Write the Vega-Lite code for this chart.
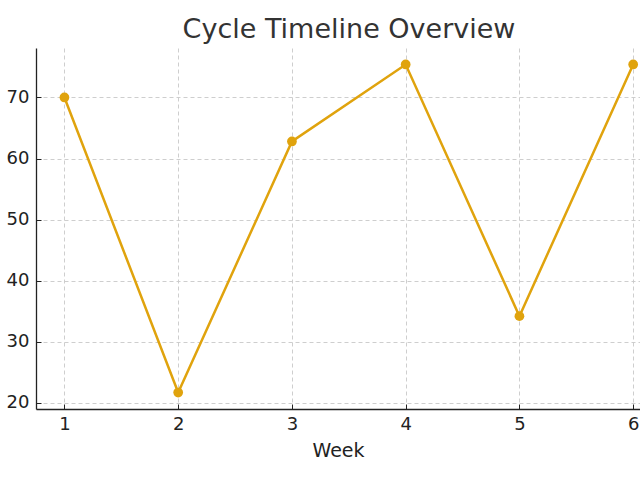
{
  "$schema": "https://vega.github.io/schema/vega-lite/v6.json",
  "autosize": {"type": "none"},
  "width": 604,
  "height": 361,
  "padding": {"left": 36, "top": 48, "right": 0, "bottom": 71},
  "background": "white",
  "title": {
    "text": "Cycle Timeline Overview",
    "font": "DejaVu Sans",
    "fontSize": 27,
    "fontWeight": "normal",
    "color": "#333333",
    "anchor": "middle",
    "dx": 11,
    "offset": 4
  },
  "data": {
    "values": [
      {"week": 1, "value": 70.0},
      {"week": 2, "value": 21.7},
      {"week": 3, "value": 62.8},
      {"week": 4, "value": 75.4},
      {"week": 5, "value": 34.2},
      {"week": 6, "value": 75.4}
    ]
  },
  "config": {
    "view": {"stroke": null},
    "axis": {
      "labelFont": "DejaVu Sans",
      "labelFontSize": 18,
      "labelColor": "#222222",
      "titleFont": "DejaVu Sans",
      "titleFontSize": 19,
      "titleFontWeight": "normal",
      "titleColor": "#222222",
      "domainColor": "#222222",
      "domainWidth": 1.3,
      "tickColor": "#222222",
      "tickSize": -5,
      "gridColor": "#c8c8c8",
      "gridDash": [4, 3],
      "gridWidth": 0.9
    }
  },
  "mark": {"type": "line", "color": "#e0a30d", "strokeWidth": 2.5, "clip": false, "point": {"filled": true, "size": 95, "color": "#e0a30d"}},
  "encoding": {
    "x": {
      "field": "week",
      "type": "quantitative",
      "title": "Week",
      "scale": {"domain": [0.75, 6.06], "nice": false, "zero": false},
      "axis": {"values": [1, 2, 3, 4, 5, 6], "format": "d", "labelPadding": 11, "labelFontSize": 18, "titlePadding": 8, "labelFlush": false}
    },
    "y": {
      "field": "value",
      "type": "quantitative",
      "title": null,
      "scale": {"domain": [19.0, 78.1], "nice": false, "zero": false},
      "axis": {"values": [20, 30, 40, 50, 60, 70], "labelPadding": 12, "labelFontSize": 18, "labelFlush": false}
    }
  }
}
